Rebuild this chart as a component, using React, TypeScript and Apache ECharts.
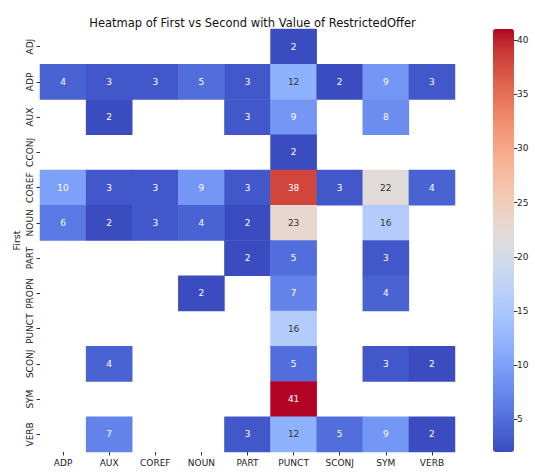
import React, { useEffect, useRef } from "react";
import * as echarts from "echarts";

const yCats = ["ADJ", "ADP", "AUX", "CCONJ", "COREF", "NOUN", "PART", "PROPN", "PUNCT", "SCONJ", "SYM", "VERB"];
const xCats = ["ADP", "AUX", "COREF", "NOUN", "PART", "PUNCT", "SCONJ", "SYM", "VERB"];

const rowADJ = [null, null, null, null, null, 2, null, null, null];
const rowADP = [4, 3, 3, 5, 3, 12, 2, 9, 3];
const rowAUX = [null, 2, null, null, 3, 9, null, 8, null];
const rowCCONJ = [null, null, null, null, null, 2, null, null, null];
const rowCOREF = [10, 3, 3, 9, 3, 38, 3, 22, 4];
const rowNOUN = [6, 2, 3, 4, 2, 23, null, 16, null];
const rowPART = [null, null, null, null, 2, 5, null, 3, null];
const rowPROPN = [null, null, null, 2, null, 7, null, 4, null];
const rowPUNCT = [null, null, null, null, null, 16, null, null, null];
const rowSCONJ = [null, 4, null, null, null, 5, null, 3, 2];
const rowSYM = [null, null, null, null, null, 41, null, null, null];
const rowVERB = [null, 7, null, null, 3, 12, 5, 9, 2];

const rows: (number | null)[][] = [
  rowADJ, rowADP, rowAUX, rowCCONJ, rowCOREF, rowNOUN, rowPART, rowPROPN, rowPUNCT, rowSCONJ, rowSYM, rowVERB,
];

const colorbarTicks = [5, 10, 15, 20, 25, 30, 35, 40];
const vMin = 2;
const vMax = 41;

const coolwarm: number[][] = [
  [59, 76, 192], [68, 90, 204], [77, 104, 215], [87, 117, 225], [98, 130, 234], [108, 142, 241],
  [119, 154, 247], [130, 165, 251], [141, 176, 254], [152, 185, 255], [163, 194, 255], [174, 201, 253],
  [184, 208, 249], [194, 213, 244], [204, 217, 238], [213, 219, 230], [221, 221, 221], [229, 216, 209],
  [236, 211, 197], [241, 204, 184], [245, 196, 172], [247, 187, 160], [247, 177, 148], [247, 166, 135],
  [244, 154, 123], [241, 141, 111], [236, 127, 99], [229, 112, 88], [222, 96, 77], [213, 80, 66],
  [203, 62, 56], [192, 40, 47], [180, 4, 38],
];
const hex = (c: number[]) => "#" + c.map((v) => Math.round(v).toString(16).padStart(2, "0")).join("");
const cmapColors = coolwarm.map(hex);

function colorAt(v: number): number[] {
  const t = Math.max(0, Math.min(1, (v - vMin) / (vMax - vMin)));
  const p = t * (coolwarm.length - 1);
  const i = Math.min(coolwarm.length - 2, Math.floor(p));
  const f = p - i;
  return coolwarm[i].map((a, k) => a + (coolwarm[i + 1][k] - a) * f);
}
function lum(c: number[]) {
  const lin = c.map((v) => {
    const s = v / 255;
    return s <= 0.03928 ? s / 12.92 : Math.pow((s + 0.055) / 1.055, 2.4);
  });
  return 0.2126 * lin[0] + 0.7152 * lin[1] + 0.0722 * lin[2];
}

const FONT = "DejaVu Sans";

export default function App() {
  const ref = useRef<HTMLDivElement>(null);
  useEffect(() => {
    document.body.style.margin = "0";
    if (!ref.current) return;
    const chart = echarts.init(ref.current, null, { renderer: "svg" });
    const data: any[] = [];
    rows.forEach((row, yi) => {
      row.forEach((v, xi) => {
        if (v === null) return;
        const dark = lum(colorAt(v)) > 0.408;
        data.push({
          value: [xi, yi, v],
          label: { color: dark ? "#333333" : "#ffffff" },
        });
      });
    });
    chart.setOption({
      animation: false,
      textStyle: { fontFamily: FONT },
      title: {
        text: "Heatmap of First vs Second with Value of RestrictedOffer",
        left: 247.5,
        textAlign: "center",
        top: 12,
        textStyle: { fontFamily: FONT, fontSize: 11.5, fontWeight: "normal", color: "#111" },
      },
      grid: [
        { left: 40, right: 80, top: 29, bottom: 21, outerBoundsMode: "none", containLabel: false },
        { left: 493, width: 21, top: 29, height: 423, outerBoundsMode: "none", containLabel: false },
      ],
      xAxis: [
        {
          type: "category",
          data: xCats,
          gridIndex: 0,
          name: "Second",
          nameLocation: "middle",
          nameGap: 22,
          nameMoveOverlap: false,
          nameTextStyle: { fontFamily: FONT, fontSize: 9.5, color: "#222", verticalAlign: "top" },
          axisLine: { show: false },
          axisTick: { show: true, alignWithLabel: true, interval: 0, length: 3.5, lineStyle: { color: "#333" } },
          axisLabel: { fontFamily: FONT, fontSize: 9, color: "#222", margin: 6, interval: 0 },
          splitLine: { show: false },
        },
        { type: "category", data: [""], gridIndex: 1, show: false },
      ],
      yAxis: [
        {
          type: "category",
          data: yCats,
          gridIndex: 0,
          inverse: true,
          name: "First",
          nameLocation: "middle",
          nameGap: 19,
          nameMoveOverlap: false,
          nameRotate: 90,
          nameTextStyle: { fontFamily: FONT, fontSize: 9.5, color: "#222" },
          axisLine: { show: false },
          axisTick: { show: true, alignWithLabel: true, interval: 0, length: 3.5, lineStyle: { color: "#333" } },
          axisLabel: { fontFamily: FONT, fontSize: 9, color: "#222", rotate: 90, margin: 6, interval: 0 },
          splitLine: { show: false },
        },
        {
          type: "value",
          gridIndex: 1,
          min: vMin,
          max: vMax,
          position: "right",
          axisLine: { show: false },
          axisTick: { show: true, length: 3.5, lineStyle: { color: "#333" }, customValues: colorbarTicks },
          axisLabel: { fontFamily: FONT, fontSize: 9, color: "#222", margin: 3, customValues: colorbarTicks },
          splitLine: { show: false },
        },
      ],
      visualMap: {
        type: "continuous",
        min: vMin,
        max: vMax,
        seriesIndex: 0,
        calculable: false,
        show: true,
        orient: "vertical",
        left: 493,
        top: 29,
        itemWidth: 21,
        itemHeight: 423,
        padding: 0,
        text: ["", ""],
        showLabel: false,
        hoverLink: false,
        inRange: { color: cmapColors },
      },
      series: [
        {
          type: "heatmap",
          xAxisIndex: 0,
          yAxisIndex: 0,
          data,
          label: { show: true, fontFamily: FONT, fontSize: 9 },
          itemStyle: { borderWidth: 0 },
          emphasis: { disabled: true },
        },
        { type: "scatter", xAxisIndex: 1, yAxisIndex: 1, data: [] },
      ],
    });
    return () => chart.dispose();
  }, []);
  return <div ref={ref} style={{ width: 535, height: 473 }} />;
}
